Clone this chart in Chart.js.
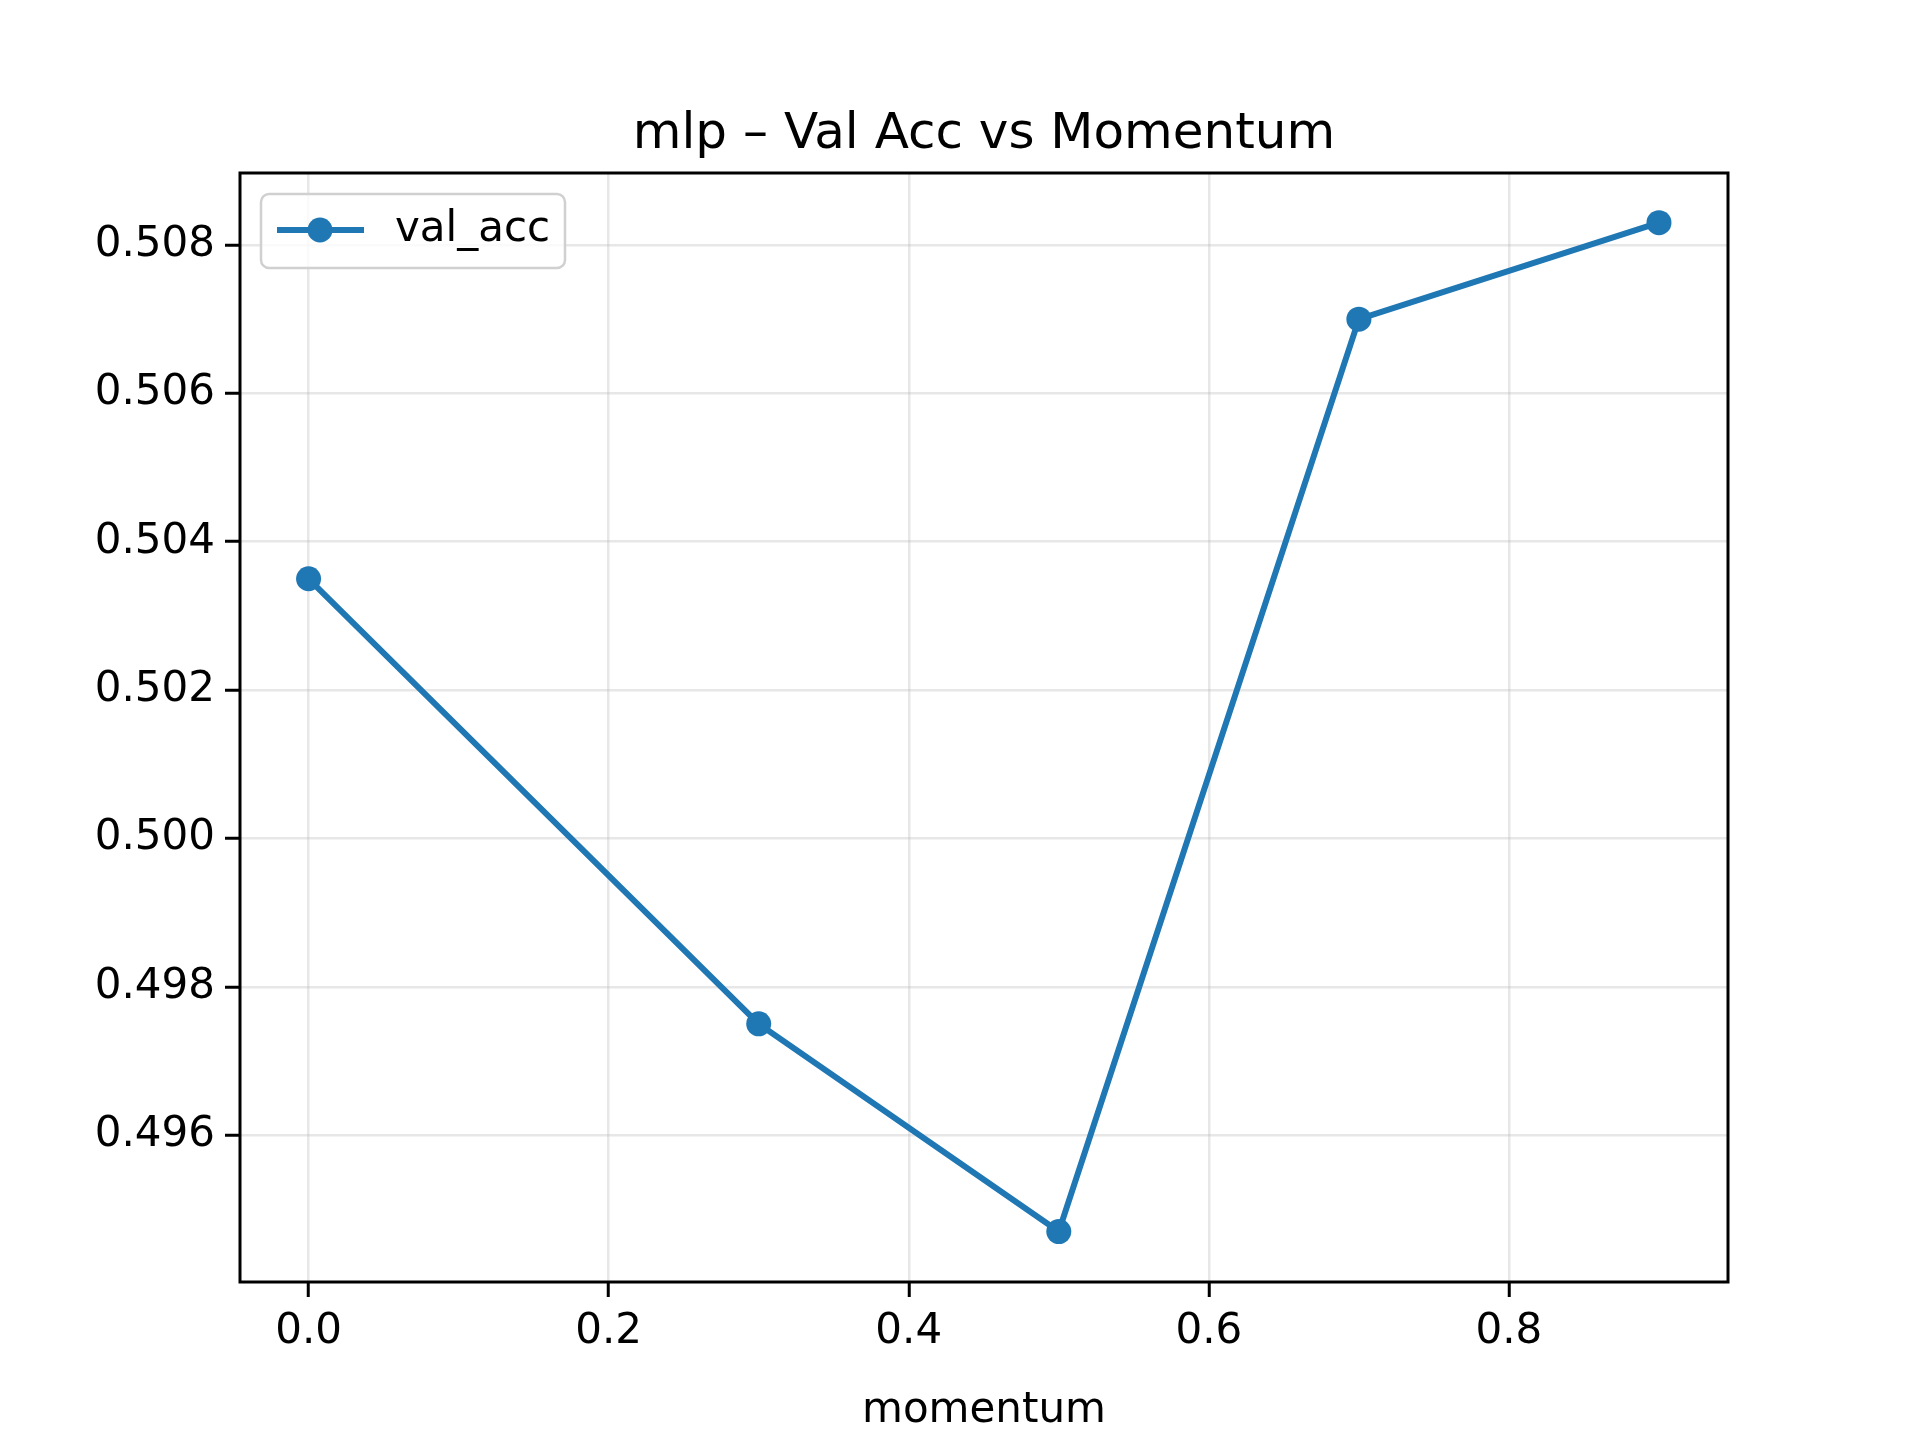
<!DOCTYPE html>
<html>
<head>
<meta charset="utf-8">
<script src="https://cdn.jsdelivr.net/npm/chart.js@4/dist/chart.umd.min.js"></script>
<style>
  html, body { margin: 0; padding: 0; background: #fff; }
  #wrap { width: 1920px; height: 1440px; }
</style>
</head>
<body>
<div id="wrap"><canvas id="chart" width="1920" height="1440"></canvas></div>
<script>
// data
const momentum = [0.0, 0.3, 0.5, 0.7, 0.9];
const valAcc = [0.5035, 0.4975, 0.4947, 0.5070, 0.5083];
const xTicks = [0.0, 0.2, 0.4, 0.6, 0.8];
const yTicks = [0.496, 0.498, 0.500, 0.502, 0.504, 0.506, 0.508];

const FONT = 'DejaVu Sans';
const BLUE = '#1f77b4';

// frame, title and legend drawn like matplotlib
const decor = {
    id: 'decor',
    afterDraw(chart) {
        const { ctx, chartArea: a } = chart;
        ctx.save();
        ctx.strokeStyle = '#000';
        ctx.lineWidth = 3;
        ctx.strokeRect(a.left, a.top, a.right - a.left, a.bottom - a.top);

        ctx.fillStyle = '#000';
        ctx.font = `50px "${FONT}"`;
        ctx.textAlign = 'center';
        ctx.textBaseline = 'alphabetic';
        ctx.fillText('mlp \u2013 Val Acc vs Momentum', (a.left + a.right) / 2, 148);

        // legend box
        const bx = a.left + 21, by = a.top + 21, bw = 304, bh = 74;
        ctx.beginPath();
        ctx.roundRect(bx, by, bw, bh, 8);
        ctx.fillStyle = 'rgba(255,255,255,0.8)';
        ctx.fill();
        ctx.strokeStyle = '#d0d0d0';
        ctx.lineWidth = 2.5;
        ctx.stroke();
        const ly = by + 36;
        ctx.strokeStyle = BLUE;
        ctx.lineWidth = 6;
        ctx.beginPath();
        ctx.moveTo(bx + 16, ly);
        ctx.lineTo(bx + 103, ly);
        ctx.stroke();
        ctx.fillStyle = BLUE;
        ctx.beginPath();
        ctx.arc(bx + 59, ly, 12.5, 0, Math.PI * 2);
        ctx.fill();
        ctx.fillStyle = '#000';
        ctx.font = `42px "${FONT}"`;
        ctx.textAlign = 'left';
        ctx.textBaseline = 'middle';
        ctx.fillText('val_acc', bx + 134, ly);
        ctx.restore();
    }
};

new Chart(document.getElementById('chart'), {
    type: 'line',
    data: {
        datasets: [{
            label: 'val_acc',
            data: momentum.map((m, i) => ({ x: m, y: valAcc[i] })),
            borderColor: BLUE,
            backgroundColor: BLUE,
            borderWidth: 6,
            pointRadius: 12.5,
            pointBorderWidth: 0,
            pointBackgroundColor: BLUE,
            tension: 0
        }]
    },
    options: {
        responsive: false,
        animation: false,
        devicePixelRatio: 1,
        layout: { padding: { top: 173, right: 192, left: 0, bottom: 0 } },
        plugins: { legend: { display: false }, tooltip: { enabled: false }, title: { display: false } },
        scales: {
            x: {
                type: 'linear',
                min: -0.0457,
                max: 0.946,
                afterBuildTicks: s => { s.ticks = xTicks.map(v => ({ value: v })); },
                afterFit: s => { s.height = 158; },
                ticks: {
                    color: '#000', font: { family: FONT, size: 42 }, padding: 10,
                    maxRotation: 0, autoSkip: false,
                    callback: v => v.toFixed(1)
                },
                grid: { color: 'rgba(176,176,176,0.3)', lineWidth: 2.5, tickColor: '#000', tickLength: 15, tickWidth: 3 },
                border: { display: false },
                title: { display: true, text: 'momentum', color: '#000', font: { family: FONT, size: 42 }, padding: { top: 4 } }
            },
            y: {
                type: 'linear',
                min: 0.49402,
                max: 0.50897,
                afterBuildTicks: s => { s.ticks = yTicks.map(v => ({ value: v })); },
                afterFit: s => { s.width = 240; },
                ticks: {
                    color: '#000', font: { family: FONT, size: 42 }, padding: 10,
                    autoSkip: false,
                    callback: v => v.toFixed(3)
                },
                grid: { color: 'rgba(176,176,176,0.3)', lineWidth: 2.5, tickColor: '#000', tickLength: 15, tickWidth: 3 },
                border: { display: false }
            }
        }
    },
    plugins: [decor]
});
</script>
</body>
</html>
